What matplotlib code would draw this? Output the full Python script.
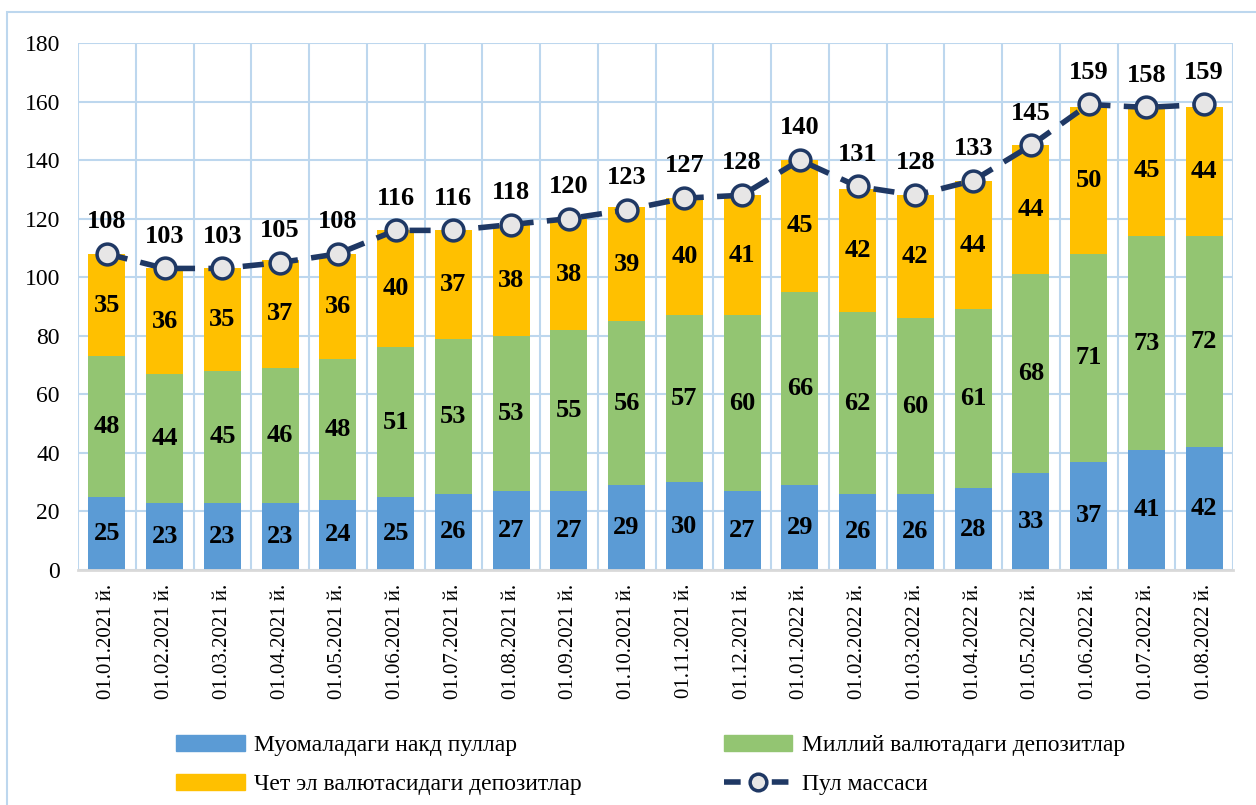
import matplotlib
matplotlib.use("Agg")
import matplotlib.pyplot as plt
from matplotlib.patches import Rectangle
from matplotlib.lines import Line2D
from matplotlib.patches import Patch
import numpy as np

dates = ["01.01.2021 й.", "01.02.2021 й.", "01.03.2021 й.", "01.04.2021 й.", "01.05.2021 й.",
         "01.06.2021 й.", "01.07.2021 й.", "01.08.2021 й.", "01.09.2021 й.", "01.10.2021 й.",
         "01.11.2021 й.", "01.12.2021 й.", "01.01.2022 й.", "01.02.2022 й.", "01.03.2022 й.",
         "01.04.2022 й.", "01.05.2022 й.", "01.06.2022 й.", "01.07.2022 й.", "01.08.2022 й."]
cash = [25, 23, 23, 23, 24, 25, 26, 27, 27, 29, 30, 27, 29, 26, 26, 28, 33, 37, 41, 42]
national = [48, 44, 45, 46, 48, 51, 53, 53, 55, 56, 57, 60, 66, 62, 60, 61, 68, 71, 73, 72]
foreign = [35, 36, 35, 37, 36, 40, 37, 38, 38, 39, 40, 41, 45, 42, 42, 44, 44, 50, 45, 44]
money_supply = [108, 103, 103, 105, 108, 116, 116, 118, 120, 123, 127, 128, 140, 131, 128, 133, 145, 159, 158, 159]

names = ["Муомаладаги накд пуллар", "Миллий валютадаги депозитлар",
         "Чет эл валютасидаги депозитлар", "Пул массаси"]

c_blue = "#5B9BD5"
c_green = "#93C572"
c_yellow = "#FFC000"
c_navy = "#1F3864"
grid_c = "#BDD7EE"

plt.rcParams['font.family'] = ['Liberation Serif', 'DejaVu Serif']

fig = plt.figure(figsize=(12.56, 8.05), dpi=100)
fig.patches.append(Rectangle((7/1256, -0.01), 1.1, 1 - 12/805 + 0.01, transform=fig.transFigure,
                             fill=False, edgecolor=grid_c, linewidth=1.5))
ax = fig.add_axes([78/1256, 1 - 570/805, 1155/1256, 527/805])

x = np.arange(len(dates))
cash_a = np.array(cash, float)
nat_a = np.array(national, float)
for_a = np.array(foreign, float)
w = 0.64
ax.bar(x, cash_a, w, color=c_blue, zorder=3)
ax.bar(x, nat_a, w, bottom=cash_a, color=c_green, zorder=3)
ax.bar(x, for_a, w, bottom=cash_a + nat_a, color=c_yellow, zorder=3)

lbl = dict(ha='center', va='center', fontsize=19, fontweight='bold', color='black', zorder=6)
for i in x:
    ax.text(i, cash_a[i] / 2, f"{cash[i]:.0f}", **lbl)
    ax.text(i, cash_a[i] + nat_a[i] / 2, f"{national[i]:.0f}", **lbl)
    ax.text(i, cash_a[i] + nat_a[i] + for_a[i] / 2, f"{foreign[i]:.0f}", **lbl)

ax.plot(x, money_supply, color=c_navy, linewidth=4, linestyle=(0, (3.8, 2.4)),
        marker='o', markersize=15, markerfacecolor='#E7E6E6', markeredgecolor=c_navy,
        markeredgewidth=2.5, zorder=5)
for i in x:
    ax.annotate(f"{money_supply[i]}", (i, money_supply[i]), xytext=(0, 15),
                textcoords='offset points', ha='center', va='bottom',
                fontsize=19, fontweight='bold', color='black', zorder=6)

ax.set_xlim(-0.5, len(dates) - 0.5)
ax.set_ylim(0, 180)
ax.set_yticks(np.arange(0, 181, 20))
ax.set_xticks(x)
ax.set_xticklabels(dates, rotation=90, fontsize=15)
ax.set_xticks(np.arange(-0.5, len(dates), 1), minor=True)
ax.tick_params(axis='x', which='both', length=0, pad=10)
ax.tick_params(axis='y', length=0, pad=13, labelsize=17)
ax.grid(axis='y', which='major', color=grid_c, linewidth=1.5, zorder=0)
ax.grid(axis='x', which='minor', color=grid_c, linewidth=1.5, zorder=0)
ax.grid(axis='x', which='major', visible=False)
for s in ['top', 'right', 'left']:
    ax.spines[s].set_visible(False)
ax.spines['bottom'].set_color('#D9D9D9')
ax.spines['bottom'].set_linewidth(2)
ax.spines['bottom'].set_zorder(4)

handles = [Patch(color=c_blue), Patch(color=c_yellow), Patch(color=c_green),
           Line2D([0], [0], color=c_navy, linewidth=4, linestyle=(0, (3.0, 5.6)), marker='o',
                  markersize=12, markerfacecolor='#E7E6E6', markeredgecolor=c_navy, markeredgewidth=2.5)]
labels = [names[0], names[2], names[1], names[3]]
fig.legend(handles, labels, ncol=2, loc='center', bbox_to_anchor=(0.518, 1 - 765/805),
           frameon=False, fontsize=17, handlelength=2.9, handleheight=0.7,
           columnspacing=6.0, labelspacing=0.75, handletextpad=0.4)

fig.savefig("out.png", dpi=100)
